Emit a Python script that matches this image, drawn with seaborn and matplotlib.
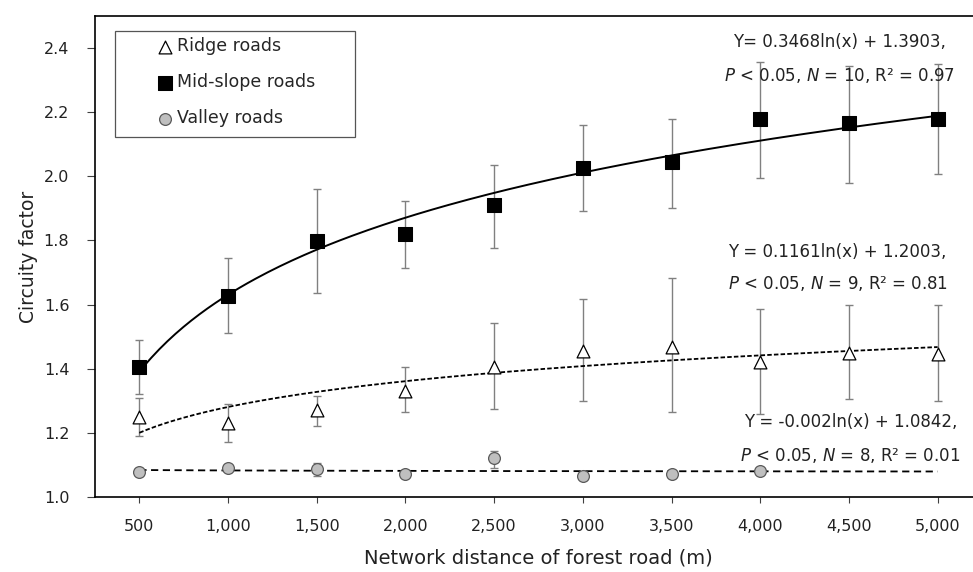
import numpy as np
import pandas as pd
import matplotlib
matplotlib.use("Agg")
import matplotlib.pyplot as plt
from matplotlib.patches import Rectangle
import seaborn as sns

# network distance (m)
distance = [500, 1000, 1500, 2000, 2500, 3000, 3500, 4000, 4500, 5000]

ridge_mean = [1.25, 1.23, 1.27, 1.33, 1.405, 1.455, 1.468, 1.42, 1.448, 1.446]
ridge_lo = [1.19, 1.17, 1.22, 1.265, 1.274, 1.30, 1.265, 1.26, 1.306, 1.30]
ridge_hi = [1.31, 1.29, 1.315, 1.405, 1.543, 1.617, 1.683, 1.585, 1.60, 1.60]

mid_mean = [1.406, 1.628, 1.798, 1.82, 1.91, 2.026, 2.045, 2.18, 2.166, 2.18]
mid_lo = [1.32, 1.51, 1.635, 1.714, 1.776, 1.892, 1.90, 1.995, 1.98, 2.007]
mid_hi = [1.49, 1.745, 1.96, 1.923, 2.035, 2.16, 2.18, 2.356, 2.345, 2.35]

valley_dist = [500, 1000, 1500, 2000, 2500, 3000, 3500, 4000]
valley_mean = [1.078, 1.09, 1.088, 1.072, 1.122, 1.065, 1.073, 1.08]
valley_lo = [1.07, 1.085, 1.066, 1.066, 1.09, 1.06, 1.068, 1.075]
valley_hi = [1.085, 1.095, 1.105, 1.078, 1.143, 1.07, 1.078, 1.085]

# log trend lines y = a*ln(x) + b, x = point index (1..10)
mid_fit = (0.3468, 1.3903)
ridge_fit = (0.1161, 1.2003)
valley_fit = (-0.002, 1.0842)

mid_eq = ["Y= 0.3468ln(x) + 1.3903,", r"$\it{P}$ < 0.05, $\it{N}$ = 10, R² = 0.97"]
ridge_eq = ["Y = 0.1161ln(x) + 1.2003,", r"$\it{P}$ < 0.05, $\it{N}$ = 9, R² = 0.81"]
valley_eq = ["Y = -0.002ln(x) + 1.0842,", r"$\it{P}$ < 0.05, $\it{N}$ = 8, R² = 0.01"]

sns.set_style("ticks")
plt.rcParams['font.family'] = ['DejaVu Sans']
plt.rcParams['mathtext.fontset'] = 'dejavusans'

fig = plt.figure(figsize=(9.73, 5.72), dpi=100)
ax = fig.add_axes([0.0976, 0.1311, 0.9116, 0.8409])

err_kw = dict(fmt='none', ecolor='#808080', elinewidth=1.0, capsize=3, capthick=1.0, zorder=2)
for d, m, lo, hi in [(distance, ridge_mean, ridge_lo, ridge_hi),
                     (distance, mid_mean, mid_lo, mid_hi),
                     (valley_dist, valley_mean, valley_lo, valley_hi)]:
    m = np.array(m)
    ax.errorbar(d, m, yerr=[m - np.array(lo), np.array(hi) - m], **err_kw)

# trend lines
xs = np.linspace(500, 5000, 200)
fits = pd.DataFrame({
    'x': np.tile(xs, 3),
    'y': np.concatenate([mid_fit[0] * np.log(xs / 500) + mid_fit[1],
                         ridge_fit[0] * np.log(xs / 500) + ridge_fit[1],
                         valley_fit[0] * np.log(xs / 500) + valley_fit[1]]),
    'series': np.repeat(['mid', 'ridge', 'valley'], len(xs)),
})
styles = {'mid': '-', 'ridge': (0, (2.5, 1.2)), 'valley': (0, (4, 2.5))}
for name, grp in fits.groupby('series'):
    sns.lineplot(data=grp, x='x', y='y', color='black', lw=1.4 if name == 'mid' else 1.3,
                 linestyle=styles[name], ax=ax, zorder=3, legend=False)

sns.scatterplot(x=distance, y=ridge_mean, marker='^', s=85, facecolor='white',
                edgecolor='black', linewidth=0.9, ax=ax, zorder=4, label='Ridge roads')
sns.scatterplot(x=distance, y=mid_mean, marker='s', s=90, color='black',
                edgecolor='black', ax=ax, zorder=4, label='Mid-slope roads')
sns.scatterplot(x=valley_dist, y=valley_mean, marker='o', s=72, color='#bfbfbf',
                edgecolor='#595959', linewidth=0.9, ax=ax, zorder=4, label='Valley roads')

ax.set_xlim(250, 5250)
ax.set_ylim(1.0, 2.5)
ax.set_xticks(distance)
ax.set_xticklabels([f"{d:,}" for d in distance])
ax.set_yticks(np.arange(1.0, 2.41, 0.2))
ax.set_yticklabels([f"{v:.1f}" for v in np.arange(1.0, 2.41, 0.2)])
ax.tick_params(labelsize=11.5, width=0.8, colors='#404040', labelcolor='#222222')
ax.tick_params(axis='x', length=4.5, pad=11)
ax.tick_params(axis='y', length=5.5, pad=13)
for s in ax.spines.values():
    s.set_color('black')
    s.set_linewidth(1.2)

ax.set_xlabel("Network distance of forest road (m)", fontsize=14, labelpad=11, color='#222222')
ax.set_ylabel("Circuity factor", fontsize=13.5, labelpad=4, color='#222222')

# legend frame is wider than the entries, draw it separately
ax.add_patch(Rectangle((0.0225, 0.7484), 0.2706, 0.2204, transform=ax.transAxes,
                       fill=False, edgecolor='#555555', lw=0.9, zorder=5))
leg = ax.legend(loc='upper left', bbox_to_anchor=(0.071, 0.956), fontsize=12.5, frameon=False,
                labelspacing=1.04, handletextpad=0.29, handlelength=0.8,
                borderpad=0, borderaxespad=0)


def put_eq(lines, xc, y1, y2):
    ax.text(xc, y1, lines[0], fontsize=12, ha='center', va='center', color='#222222')
    ax.text(xc, y2, lines[1], fontsize=12, ha='center', va='center', color='#222222')


put_eq(mid_eq, 4447, 2.42, 2.316)
put_eq(ridge_eq, 4436, 1.764, 1.667)
put_eq(valley_eq, 4509, 1.235, 1.128)

fig.savefig("out.png", dpi=100)
